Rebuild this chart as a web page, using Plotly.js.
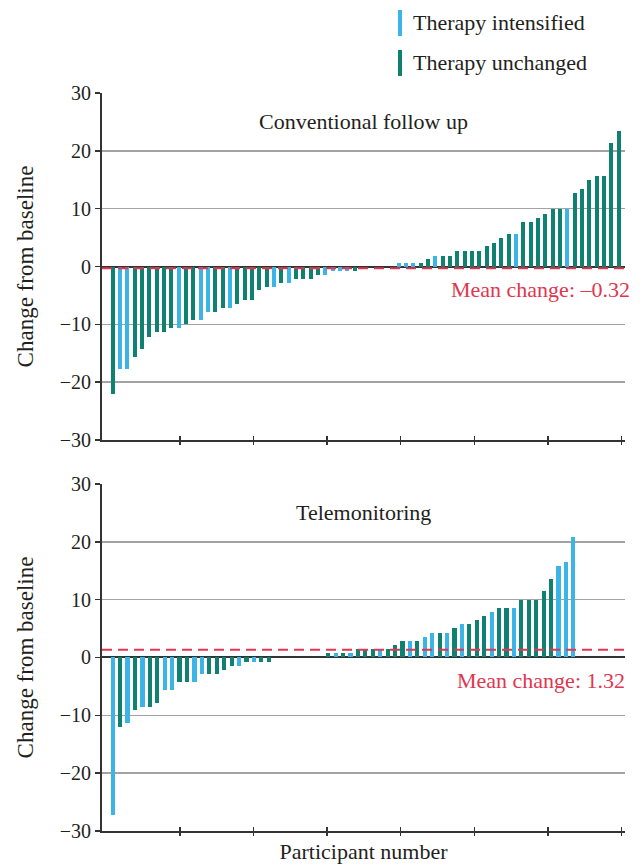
<!DOCTYPE html>
<html>
<head>
<meta charset="utf-8">
<script src="https://cdn.plot.ly/plotly-3.0.1.min.js"></script>
<style>html,body{margin:0;padding:0;background:#fff;}#chart{width:642px;height:865px;}</style>
</head>
<body>
<div id="chart"></div>
<script>
// ---------- data ----------
const seriesNames = ["Therapy intensified", "Therapy unchanged"];
const panelTitles = ["Conventional follow up", "Telemonitoring"];
const meanChanges = [-0.32, 1.32];
const meanLabels = ["Mean change: \u20130.32", "Mean change: 1.32"];
const yTickVals = [-30, -20, -10, 0, 10, 20, 30];
const yTickText = ["\u221230", "\u221220", "\u221210", "0", "10", "20", "30"];
const xTickVals = [10, 20, 30, 40, 50, 60, 70];

// Conventional follow up: change from baseline per participant (sorted)
const convChange = [
  -22.1, -17.8, -17.8, -15.7, -14.2, -12.2, -11.4, -11.4, -10.7, -10.7,
  -9.9, -9.2, -9.2, -7.8, -7.8, -7.1, -7.1, -6.4, -5.8, -5.8,
  -4.1, -3.5, -3.5, -2.8, -2.8, -2.1, -2.1, -2.1, -1.4, -1.4,
  -0.7, -0.7, -0.7, -0.7, 0, 0, 0, 0, 0, 0.6,
  0.6, 0.6, 0.6, 1.3, 1.9, 1.9, 1.9, 2.7, 2.7, 2.7,
  2.7, 3.5, 4.1, 5.0, 5.6, 5.6, 7.7, 7.7, 8.4, 9.1,
  9.9, 9.9, 9.9, 12.7, 13.4, 14.9, 15.7, 15.7, 21.4, 23.5
];
// I = therapy intensified, U = therapy unchanged
const convGroup = [
  "U","I","I","U","U","U","U","U","U","I",
  "U","U","I","I","U","U","I","U","U","U",
  "U","U","I","U","I","U","U","U","U","I",
  "I","I","I","U","U","U","U","U","U","I",
  "I","I","U","U","I","U","U","U","U","U",
  "U","U","U","U","U","I","U","U","U","U",
  "U","U","I","U","U","U","U","U","U","U"
];

// Telemonitoring
const teleChange = [
  -27.2, -12.1, -11.4, -9.1, -8.5, -8.5, -7.8, -5.7, -5.7, -4.2,
  -4.2, -4.2, -2.8, -2.8, -2.8, -2.1, -1.4, -1.4, -0.7, -0.7,
  -0.7, -0.7, 0, 0, 0, 0, 0, 0, 0, 0.8,
  0.8, 0.8, 0.8, 1.5, 1.5, 1.5, 1.5, 1.5, 2.2, 2.9,
  2.9, 2.9, 3.6, 4.3, 4.3, 4.3, 5.1, 5.8, 5.8, 6.5,
  7.1, 7.9, 8.6, 8.6, 8.6, 10.0, 10.0, 10.0, 11.5, 13.6,
  15.9, 16.5, 20.9
];
const teleGroup = [
  "I","U","I","U","I","U","U","I","I","U",
  "U","I","I","U","U","U","U","I","U","I",
  "U","U","U","U","U","U","U","U","U","U",
  "I","U","I","U","U","U","I","U","U","U",
  "I","U","I","I","U","I","U","I","U","U",
  "U","I","U","U","I","U","U","U","U","U",
  "I","I","I"
];

// ---------- style ----------
const BLUE = "#3bb5e8", GREEN = "#0e8170", RED = "#e0364f";
const INK = "#231f20", AXIS = "#333333", GRID = "#a3a3a3";
const FONT = "Liberation Serif";
const TXT = 22;

const participants = arr => arr.map((_, i) => i + 1);
const colours = g => g.map(c => c === "I" ? BLUE : GREEN);

// participant-number scale used for the axis ticks
const tickRange = [-0.6, 70.48];

function meanTrace(mean, xa, ya) {
  return {type: "scatter", mode: "lines", x: tickRange, y: [mean, mean], xaxis: xa, yaxis: ya,
    line: {color: RED, width: 2, dash: "10px,6px"}, showlegend: false, hoverinfo: "y", cliponaxis: false};
}

const traces = [
  {type: "bar", x: participants(convChange), y: convChange, xaxis: "x", yaxis: "y",
   marker: {color: colours(convGroup), line: {width: 0}}, width: 0.56, showlegend: false, hoverinfo: "x+y"},
  {type: "bar", x: participants(teleChange), y: teleChange, xaxis: "x2", yaxis: "y2",
   marker: {color: colours(teleGroup), line: {width: 0}}, width: 0.56, showlegend: false, hoverinfo: "x+y"},
  meanTrace(meanChanges[0], "x3", "y"),
  meanTrace(meanChanges[1], "x4", "y2")
];

function xMain(anchor, range, extra) {
  return Object.assign({
    anchor: anchor, range: range, domain: [0, 1],
    showline: true, linecolor: AXIS, linewidth: 2,
    ticks: "", showticklabels: false,
    showgrid: false, zeroline: false, fixedrange: true
  }, extra || {});
}
function xTicks(over, anchor) {
  return {overlaying: over, anchor: anchor, range: tickRange, side: "bottom",
    showline: false, ticks: "outside", ticklen: 4, tickwidth: 1.5, tickcolor: AXIS,
    tickmode: "array", tickvals: xTickVals, showticklabels: false,
    minor: {tickmode: "array", tickvals: xTickVals, ticks: "inside", ticklen: 4, tickwidth: 1.5, tickcolor: AXIS, showgrid: false},
    showgrid: false, zeroline: false, fixedrange: true};
}
function yAxis(domain, anchor) {
  return {
    domain: domain, anchor: anchor, range: [-30, 30],
    tickmode: "array", tickvals: yTickVals, ticktext: yTickText,
    ticks: "outside", ticklen: 5, tickwidth: 1.5, tickcolor: AXIS,
    showline: true, linecolor: AXIS, linewidth: 2,
    showgrid: true, gridcolor: GRID, gridwidth: 1.5,
    zeroline: true, zerolinecolor: AXIS, zerolinewidth: 2,
    tickfont: {family: FONT, size: 20, color: INK},
    title: {text: "Change from baseline", font: {family: FONT, size: 23, color: INK}, standoff: 20},
    fixedrange: true
  };
}

const layout = {
  width: 642, height: 865,
  margin: {l: 102, r: 17, t: 93, b: 34},
  paper_bgcolor: "#ffffff", plot_bgcolor: "#ffffff",
  font: {family: FONT, color: INK, size: TXT},
  barmode: "overlay", bargap: 0,
  showlegend: false,
  xaxis: xMain("y", [-0.459, 70.86]),
  xaxis3: xTicks("x", "y"),
  xaxis2: xMain("y2", [-0.44, 69.95],
    {title: {text: "Participant number", font: {family: FONT, size: TXT, color: INK}, standoff: 12}}),
  xaxis4: xTicks("x2", "y2"),
  yaxis: yAxis([0.5298, 1], "x"),
  yaxis2: yAxis([0, 0.4702], "x2"),
  shapes: [
    // legend swatches
    {type: "rect", xref: "paper", yref: "paper", x0: 0.566, x1: 0.5736, y0: 1.0772, y1: 1.1125,
     fillcolor: BLUE, line: {width: 0}},
    {type: "rect", xref: "paper", yref: "paper", x0: 0.566, x1: 0.5736, y0: 1.0230, y1: 1.0583,
     fillcolor: GREEN, line: {width: 0}}
  ],
  annotations: [
    {text: seriesNames[0], xref: "paper", yref: "paper", x: 0.5908, y: 1.0962, xanchor: "left", yanchor: "middle",
     showarrow: false, font: {family: FONT, size: TXT, color: INK}},
    {text: seriesNames[1], xref: "paper", yref: "paper", x: 0.5908, y: 1.0420, xanchor: "left", yanchor: "middle",
     showarrow: false, font: {family: FONT, size: TXT, color: INK}},
    {text: panelTitles[0], xref: "paper", yref: "paper", x: 0.5, y: 0.9611, xanchor: "center", yanchor: "middle",
     showarrow: false, font: {family: FONT, size: TXT, color: INK}},
    {text: panelTitles[1], xref: "paper", yref: "paper", x: 0.5, y: 0.4309, xanchor: "center", yanchor: "middle",
     showarrow: false, font: {family: FONT, size: TXT, color: INK}},
    {text: meanLabels[0], xref: "paper", yref: "paper", x: 1.0134, y: 0.7344, xanchor: "right", yanchor: "middle",
     showarrow: false, font: {family: FONT, size: TXT, color: RED}},
    {text: meanLabels[1], xref: "paper", yref: "paper", x: 1.0038, y: 0.2046, xanchor: "right", yanchor: "middle",
     showarrow: false, font: {family: FONT, size: TXT, color: RED}}
  ]
};

Plotly.newPlot("chart", traces, layout, {displayModeBar: false, staticPlot: true});
</script>
</body>
</html>
